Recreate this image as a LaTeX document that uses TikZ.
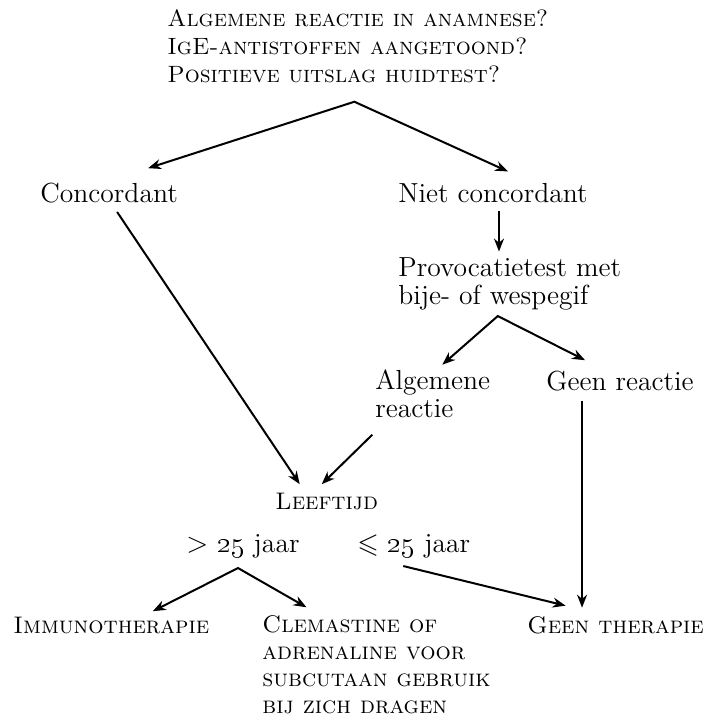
\documentclass[tikz,border=0pt]{standalone}
\usepackage{amssymb}
\usepackage{tikz}
\usetikzlibrary{arrows.meta}

\begin{document}
\begin{tikzpicture}[
    x=0.5pt, y=-0.5pt,
    label/.style={anchor=base west, inner sep=0pt, align=left,
        font=\fontsize{13.8}{13.6}\selectfont},
    sclabel/.style={label, font=\fontsize{12}{13.4}\selectfont\scshape},
    arrow/.style={-{Stealth[length=6.5pt, width=5pt]}, line width=1pt},
    fork/.style={{Stealth[length=6.5pt, width=5pt]}-{Stealth[length=6.5pt, width=5pt]},
        line width=1pt, line join=miter}
]
    \useasboundingbox (0,0) rectangle (709,720);

    % Question and first split
    \node[sclabel, font=\fontsize{11.8}{13.8}\selectfont\scshape] (quest) at (167,82)
        {Algemene reactie in anamnese?\\ IgE-antistoffen aangetoond?\\ Positieve uitslag huidtest?};
    \node[label] (conc) at (40,202) {Concordant};
    \node[label] (notconc) at (398,202) {Niet concordant};

    % Provocation branch
    \node[label] (provo) at (398,304) {Provocatietest met\\ bije- of wespegif};
    \node[label] (general) at (375,417) {Algemene\\ reactie};
    \node[label] (noreact) at (546,390) {Geen reactie};

    % Age
    \node[sclabel] (age) at (275,509) {Leeftijd};
    \node[label] (older) at (186,552) {$>$ \oldstylenums{25} jaar};
    \node[label] (younger) at (357,552) {$\leqslant$ \oldstylenums{25} jaar};

    % Outcomes
    \node[sclabel] (immuno) at (13,633) {Immunotherapie};
    \node[sclabel] (clem) at (262,713) {Clemastine of\\ adrenaline voor\\
        subcutaan gebruik\\ bij zich dragen};
    \node[sclabel] (notherapy) at (527,633) {Geen therapie};

    % Split points and starts of the straight drops
    \coordinate (split1) at ([shift={(-3.5,19)}]quest.south);
    \coordinate (split2) at ([shift={(-12,6)}]provo.south);
    \coordinate (split3) at ([shift={(-5,10)}]older.south);
    \coordinate (drop1) at ([shift={(6,8)}]notconc.south);
    \coordinate (drop2) at ([shift={(-38,10)}]noreact.south);

    % Connections
    \draw[fork] ([shift={(39,-14)}]conc.north) -- (split1) -- ([shift={(15,-11)}]notconc.north);
    \draw[arrow, shorten >=3pt] (drop1) -- (drop1 |- provo.north);
    \draw[fork] ([shift={(9.5,-5)}]general.north) -- (split2) -- ([shift={(-35,-10)}]noreact.north);
    \draw[arrow] ([shift={(8,9)}]conc.south) -- ([shift={(-27,-8)}]age.north);
    \draw[arrow] ([shift={(-60.5,17)}]general.south) -- ([shift={(-5,-8)}]age.north);
    \draw[arrow, shorten >=4pt] (drop2) -- (drop2 |- notherapy.north);
    \draw[fork] ([shift={(41.5,-5)}]immuno.north) -- (split3) -- ([shift={(-70,-8)}]clem.north);
    \draw[arrow] ([shift={(-10.5,8)}]younger.south) -- ([shift={(-50,-10)}]notherapy.north);
\end{tikzpicture}
\end{document}
